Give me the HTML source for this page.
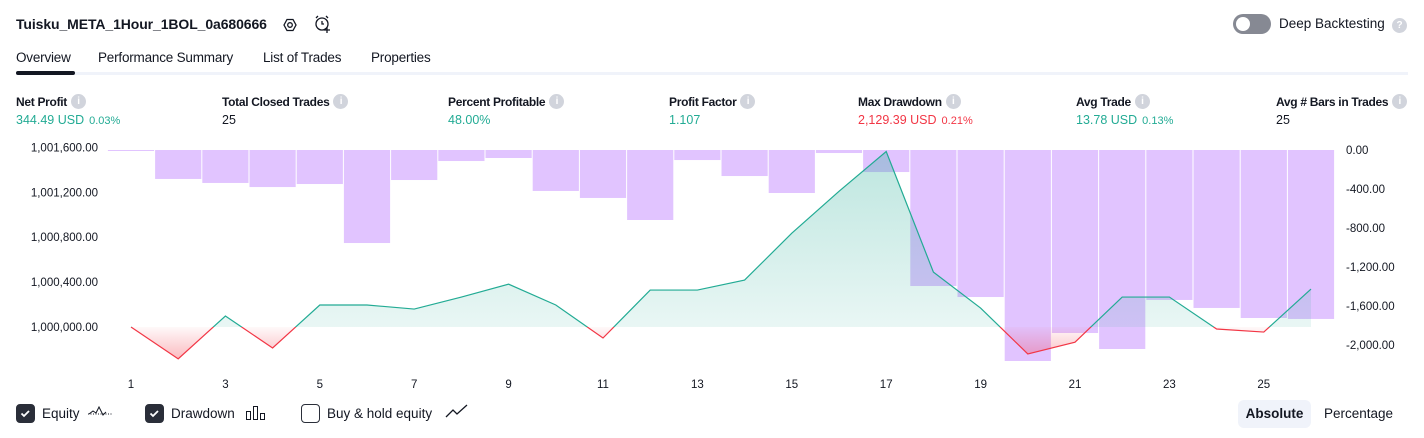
<!DOCTYPE html>
<html><head><meta charset="utf-8">
<style>
*{box-sizing:border-box;margin:0;padding:0}
body{width:1424px;height:438px;background:#fff;font-family:"Liberation Sans",sans-serif;color:#131722;position:relative;overflow:hidden}
.abs{position:absolute;white-space:nowrap}
.title{left:16px;top:16px;font-size:14px;font-weight:bold;letter-spacing:-0.1px}
.tab{top:50px;font-size:13.5px;letter-spacing:-0.2px}
.lbl{top:94px;font-size:12px;font-weight:bold;letter-spacing:-0.3px;display:flex;align-items:center;gap:4px}
.info{width:15px;height:15px;border-radius:50%;background:#d1d4dc;color:#fff;font-size:10px;font-weight:bold;text-align:center;line-height:15px;display:inline-block}
.val{top:113px;font-size:12.5px}
.g{color:#22ab94}.r{color:#f23645}
.small{font-size:11px;margin-left:5px}
.ax{font-size:11.5px;fill:#131722}
.cb{top:404px;width:19px;height:19px;border-radius:4px;border:1.5px solid #2a2e39}
.cb.on{background:#2a2e39}
.cbl{top:406px;font-size:13.5px}
</style></head><body>
<div class="abs title">Tuisku_META_1Hour_1BOL_0a680666</div>
<svg class="abs" style="left:280px;top:15px" width="20" height="20"><polygon points="4,10 7,4.5 13,4.5 16,10 13,15.5 7,15.5" fill="none" stroke="#131722" stroke-width="1.3"/><circle cx="10" cy="10" r="2.3" fill="none" stroke="#131722" stroke-width="1.3"/></svg>
<svg class="abs" style="left:313px;top:13px" width="20" height="22"><circle cx="9" cy="11" r="6" fill="none" stroke="#131722" stroke-width="1.3"/><path d="M9 8v3h2M3 5l2-2M15 5l-2-2M14 14v6M11 17h6" fill="none" stroke="#131722" stroke-width="1.3"/></svg>

<div class="abs" style="left:1233px;top:14px;width:38px;height:20px;border-radius:10px;background:#868993"><div style="position:absolute;left:3px;top:3px;width:14px;height:14px;border-radius:50%;background:#fff"></div></div>
<div class="abs" style="left:1279px;top:16px;font-size:13.5px">Deep Backtesting</div>
<div class="abs info" style="left:1392px;top:18px">?</div>

<div class="abs tab" style="left:16px">Overview</div>
<div class="abs tab" style="left:98px">Performance Summary</div>
<div class="abs tab" style="left:263px">List of Trades</div>
<div class="abs tab" style="left:371px">Properties</div>
<div class="abs" style="left:16px;top:72px;width:1392px;height:3px;background:#f0f3fa"></div>
<div class="abs" style="left:16px;top:71px;width:59px;height:4px;border-radius:2px;background:#131722"></div>

<div class="abs lbl" style="left:16px">Net Profit <span class="info">i</span></div>
<div class="abs val g" style="left:16px">344.49 USD<span class="small">0.03%</span></div>
<div class="abs lbl" style="left:222px">Total Closed Trades <span class="info">i</span></div>
<div class="abs val" style="left:222px">25</div>
<div class="abs lbl" style="left:448px">Percent Profitable <span class="info">i</span></div>
<div class="abs val g" style="left:448px">48.00%</div>
<div class="abs lbl" style="left:669px">Profit Factor <span class="info">i</span></div>
<div class="abs val g" style="left:669px">1.107</div>
<div class="abs lbl" style="left:858px">Max Drawdown <span class="info">i</span></div>
<div class="abs val r" style="left:858px">2,129.39 USD<span class="small">0.21%</span></div>
<div class="abs lbl" style="left:1076px">Avg Trade <span class="info">i</span></div>
<div class="abs val g" style="left:1076px">13.78 USD<span class="small">0.13%</span></div>
<div class="abs lbl" style="left:1276px">Avg # Bars in Trades <span class="info">i</span></div>
<div class="abs val" style="left:1276px">25</div>

<svg id="chart" class="abs" style="left:0;top:0" width="1424" height="438">
<defs>
<linearGradient id="gg" x1="0" y1="150" x2="0" y2="327" gradientUnits="userSpaceOnUse"><stop offset="0" stop-color="#22ab94" stop-opacity="0.3"/><stop offset="1" stop-color="#22ab94" stop-opacity="0.1"/></linearGradient>
<linearGradient id="rg" x1="0" y1="327" x2="0" y2="360" gradientUnits="userSpaceOnUse"><stop offset="0" stop-color="#f23645" stop-opacity="0.03"/><stop offset="1" stop-color="#f23645" stop-opacity="0.35"/></linearGradient>
<clipPath id="above"><rect x="0" y="0" width="1424" height="327"/></clipPath>
<clipPath id="below"><rect x="0" y="327" width="1424" height="111"/></clipPath>
</defs>
<g id="bars"></g><g id="area"></g><g id="lines"></g><g id="axes"></g>
</svg>

<div class="abs cb on" style="left:16px"><svg width="16" height="16"><path d="M4.5 8.5l2.5 2.5 5-5" fill="none" stroke="#fff" stroke-width="1.8"/></svg></div>
<div class="abs cbl" style="left:42px">Equity</div>
<svg class="abs" style="left:87px;top:404px" width="26" height="18"><path d="M2 10l4-3 3 2 3-6 4 8 3-3" fill="none" stroke="#131722" stroke-width="1"/><path d="M1 10h24" stroke="#131722" stroke-dasharray="1 1.5"/></svg>
<div class="abs cb on" style="left:145px"><svg width="16" height="16"><path d="M4.5 8.5l2.5 2.5 5-5" fill="none" stroke="#fff" stroke-width="1.8"/></svg></div>
<div class="abs cbl" style="left:171px">Drawdown</div>
<svg class="abs" style="left:246px;top:405px" width="22" height="16"><rect x="0.5" y="6.5" width="4" height="8" fill="none" stroke="#131722"/><rect x="7.5" y="1.5" width="4" height="13" fill="none" stroke="#131722"/><rect x="14.5" y="8.5" width="4" height="6" fill="none" stroke="#131722"/></svg>
<div class="abs cb" style="left:301px"></div>
<div class="abs cbl" style="left:327px">Buy &amp; hold equity</div>
<svg class="abs" style="left:445px;top:404px" width="24" height="16"><path d="M1 13l7-7 4 4 10-9" fill="none" stroke="#131722" stroke-width="1.3"/></svg>

<div class="abs" style="left:1238px;top:400px;width:73px;height:28px;border-radius:6px;background:#f0f3fa;font-size:13.5px;font-weight:bold;text-align:center;line-height:28px">Absolute</div>
<div class="abs" style="left:1324px;top:406px;font-size:13.5px">Percentage</div>

<script>
const trades = [1,2,3,4,5,6,7,8,9,10,11,12,13,14,15,16,17,18,19,20,21,22,23,24,25,26];
const equity = [0,-284,98,-187,196,196,160,267,382,196,-98,329,329,418,836,1209,1564,489,169,-240,-135,267,267,-18,-45,338];
const drawdown = [-10,-297,-338,-380,-349,-954,-308,-113,-82,-420,-492,-718,-103,-267,-441,-31,-226,-1395,-1508,-2164,-1877,-2041,-1538,-1620,-1723,-1733];
const xTicks = [1,3,5,7,9,11,13,15,17,19,21,23,25];
const leftTicks = [1000000,1000400,1000800,1001200,1001600];
const rightTicks = [0,-400,-800,-1200,-1600,-2000];
const base = 1000000;

const NS='http://www.w3.org/2000/svg';
const x = i => 131 + (i-1)*47.2;
const yL = v => 327 - v*0.1122;
const yR = v => 150 - v*0.0975;
function mk(tag, attrs, parent){const e=document.createElementNS(NS,tag);for(const k in attrs)e.setAttribute(k,attrs[k]);parent.appendChild(e);return e;}
const bars=document.getElementById('bars'),area=document.getElementById('area'),lines=document.getElementById('lines'),axes=document.getElementById('axes');

drawdown.forEach((d,i)=>{
  const cx=x(trades[i]);
  const r=mk('rect',{x:cx-23.1,y:150,width:46.2,height:Math.max(1,yR(d)-150),fill:'#e1c4ff'},bars);
  
  
});

let pts=trades.map((t,i)=>x(t)+','+yL(equity[i])).join(' ');
const poly=x(trades[0])+',327 '+pts+' '+x(trades[trades.length-1])+',327';
const ga=mk('polygon',{points:poly,fill:'url(#gg)','clip-path':'url(#above)'},area);


const ra=mk('polygon',{points:poly,fill:'url(#rg)','clip-path':'url(#below)'},area);


const gl=mk('polyline',{points:pts,fill:'none',stroke:'#22ab94','stroke-width':1.2,'clip-path':'url(#above)'},lines);


const rl=mk('polyline',{points:pts,fill:'none',stroke:'#f23645','stroke-width':1.2,'clip-path':'url(#below)'},lines);



xTicks.forEach(t=>{
  const e=mk('text',{x:x(t),y:388,'text-anchor':'middle',class:'ax'},axes);e.textContent=t;
  
  
});
leftTicks.forEach(v=>{
  const e=mk('text',{x:98,y:yL(v-base)+4,'text-anchor':'end',class:'ax'},axes);
  e.textContent=v.toLocaleString('en-US',{minimumFractionDigits:2});
  
  
});
rightTicks.forEach(v=>{
  const e=mk('text',{x:1346,y:yR(v)+4,'text-anchor':'start',class:'ax'},axes);
  e.textContent=v.toLocaleString('en-US',{minimumFractionDigits:2});
  
  
});
</script>
</body></html>
